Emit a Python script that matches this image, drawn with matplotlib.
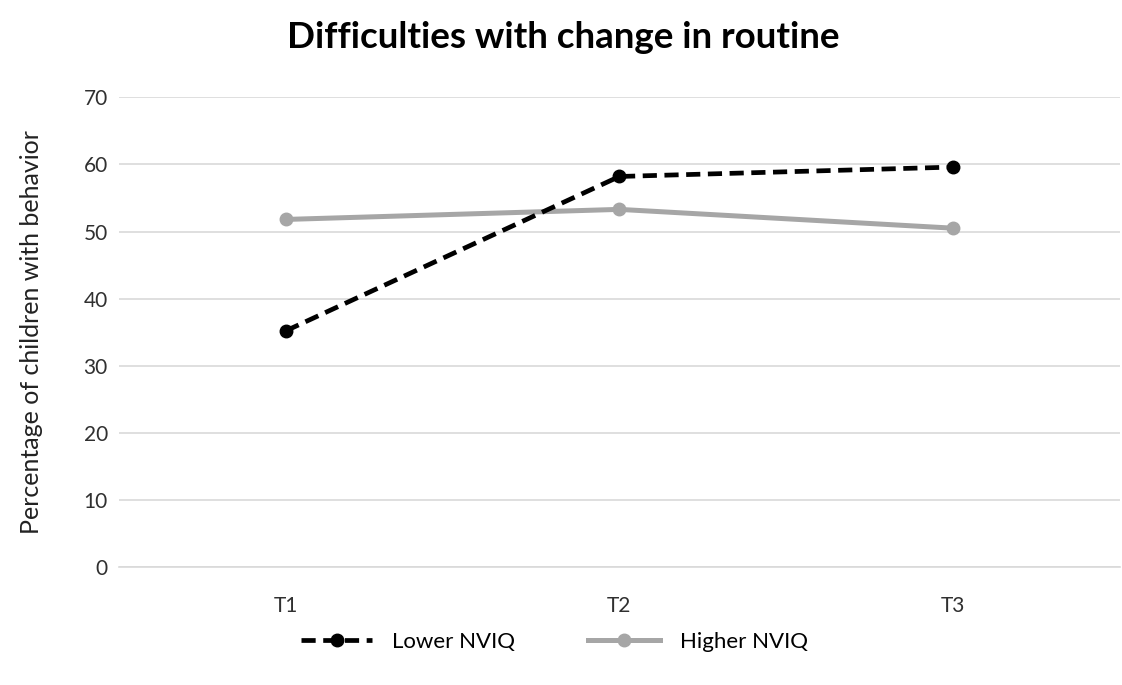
import matplotlib
matplotlib.use("Agg")
import matplotlib.pyplot as plt

plt.rcParams['font.family'] = ['Lato', 'DejaVu Sans']

timepoints = ['T1', 'T2', 'T3']
lower_nviq = [35.2, 58.2, 59.6]
higher_nviq = [51.8, 53.3, 50.5]

fig = plt.figure(figsize=(11.22, 6.85), dpi=100)
ax = fig.add_axes([0.106, 0.172, 0.892, 0.686])

x = range(len(timepoints))
ax.plot(x, lower_nviq, color='black', linestyle=(0, (3, 1.6)), linewidth=3.4,
        marker='o', markersize=9, label='Lower NVIQ', zorder=3)
ax.plot(x, higher_nviq, color='#a6a6a6', linewidth=3.6,
        marker='o', markersize=9, label='Higher NVIQ', zorder=2)

ax.set_xlim(-0.5, 2.5)
ax.set_ylim(0, 70)
ax.set_yticks(range(0, 71, 10))
ax.set_xticks(list(x))
ax.set_xticklabels(timepoints)
ax.grid(axis='y', color='#d9d9d9', linewidth=1.2)
ax.set_axisbelow(True)
for s in ['top', 'right', 'left']:
    ax.spines[s].set_visible(False)
ax.spines['bottom'].set_color('#d9d9d9')
ax.spines['bottom'].set_linewidth(1.2)
ax.tick_params(length=0, labelsize=15, colors='#303030')
ax.tick_params(axis='y', pad=8)
ax.tick_params(axis='x', pad=21)

ax.set_ylabel('Percentage of children with behavior', fontsize=18, color='#222222')
ax.yaxis.set_label_coords(-0.076, 0.5)
fig.suptitle('Difficulties with change in routine', fontsize=26.5, fontweight='bold',
             y=0.97, x=0.502)

fig.legend(loc='center', bbox_to_anchor=(0.494, 0.063), ncol=2, frameon=False,
           fontsize=16, handlelength=3.2, handletextpad=0.9, columnspacing=3.3)

fig.savefig('out.png', dpi=100)
